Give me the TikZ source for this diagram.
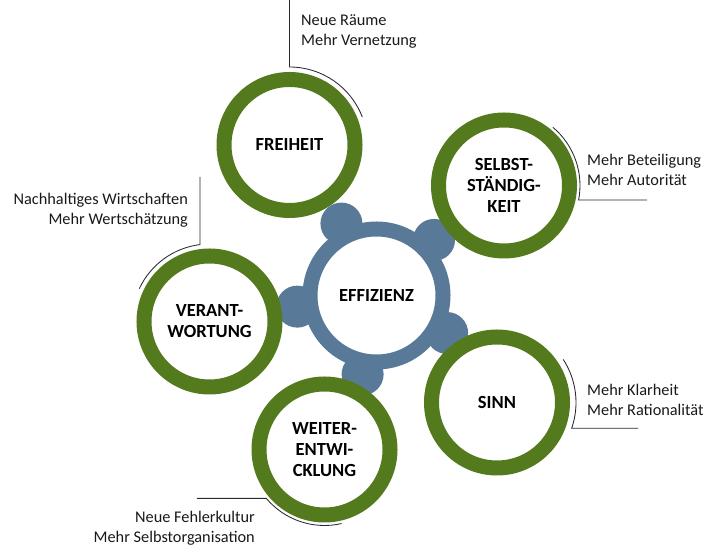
\documentclass[tikz,border=0pt]{standalone}
\usepackage{fontspec}
\setmainfont{Carlito}
\definecolor{ringgreen}{RGB}{84,122,30}
\definecolor{gearblue}{RGB}{88,122,152}
\definecolor{calloutc}{RGB}{40,40,52}
\definecolor{textc}{RGB}{25,25,25}
\tikzset{
  ring/.style={circle, draw=ringgreen, line width=15pt, fill=white, minimum size=131pt, inner sep=0pt, outer sep=0pt,
    align=center, text=black, font=\bfseries\fontsize{18.5}{21}\selectfont},
  gearring/.style={circle, draw=gearblue, line width=15pt, fill=white, minimum size=133pt, inner sep=0pt, outer sep=0pt,
    align=center, text=black, font=\bfseries\fontsize{18.5}{21}\selectfont},
  callout/.style={draw=calloutc, line width=0.85pt},
  ctext/.style={inner sep=0pt, text=textc, font=\fontsize{16.3}{20}\selectfont}
}
\begin{document}
\begin{tikzpicture}[x=1pt,y=1pt]
\useasboundingbox (0,0) rectangle (715,556);
% gear
\coordinate (g) at (376.5,260.5);
\foreach \a in {44,116,188,260,332}
  \fill[gearblue] ([shift={(\a:80)}]g) circle (21);
\node[gearring] (gear) at (g) {EFFIZIENZ};
% rings
\node[ring] (fr) at (289.5,411) {FREIHEIT};
\node[ring] (se) at (504,370.5) {SELBST-\\STÄNDIG-\\KEIT};
\node[ring] (si) at (497,153.5) {SINN};
\node[ring] (we) at (324.5,106.5) {WEITER-\\ENTWI-\\CKLUNG};
\node[ring] (ve) at (209.5,234.5) {VERANT-\\WORTUNG};
% callout lines
\coordinate (frtop) at (289.5,556);
\draw[callout] (frtop) -- ([shift={(90:78)}]fr.center) arc[start angle=90, end angle=21, radius=78];
\draw[callout] ([shift={(50:76)}]se.center) arc[start angle=50, end angle=-11, radius=76] -- ++(68.4,0);
\draw[callout] ([shift={(33:79)}]si.center) arc[start angle=33, end angle=-19, radius=79] -- ++(66.3,0);
\draw[callout] ([shift={(220:76)}]we.center) coordinate (wa) ++(-69.3,0) -- (wa) arc[start angle=220, end angle=283, radius=76];
\draw[callout] ([shift={(97:77.5)}]ve.center) coordinate (va) ++(0,67.6) -- (va) arc[start angle=97, end angle=155, radius=77.5];
% callout texts
\node[ctext, anchor=west, align=left] (t1) at (301,524.5) {Neue Räume\\Mehr Vernetzung};
\node[ctext, anchor=west, align=left] (t2) at (587,386) {Mehr Beteiligung\\Mehr Autorität};
\node[ctext, anchor=west, align=left] (t3) at (587,156) {Mehr Klarheit\\Mehr Rationalität};
\node[ctext, anchor=east, align=right] (t4) at (255,28) {Neue Fehlerkultur\\Mehr Selbstorganisation};
\node[ctext, anchor=east, align=right] (t5) at (188,345.5) {Nachhaltiges Wirtschaften\\Mehr Wertschätzung};
\end{tikzpicture}
\end{document}
